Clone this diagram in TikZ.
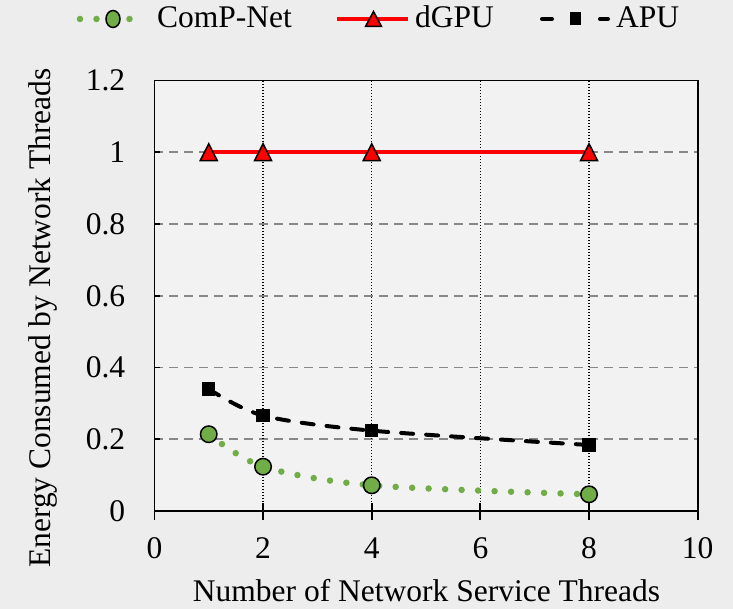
\documentclass[tikz,border=0pt]{standalone}
\usepackage{fontspec}
\newfontfamily\chartserif{LiberationSerif}[Extension=.ttf, UprightFont=*-Regular]
\usetikzlibrary{shapes.geometric}

\definecolor{pagebg}{HTML}{EDEDED}
\definecolor{plotbg}{HTML}{F2F2F2}
\definecolor{gridgray}{HTML}{888888}
\definecolor{compgreen}{HTML}{70AD47}
\definecolor{dgpured}{HTML}{FF0000}

\tikzset{
  axisframe/.style={black, line width=1.8pt},
  hgrid/.style={gridgray, line width=1.8pt, dash pattern=on 9pt off 6pt},
  vgrid/.style={black, line width=1.2pt, dash pattern=on 1.4pt off 1.6pt},
  compline/.style={compgreen, line width=6.5pt, line cap=round, dash pattern=on 0pt off 16.5pt},
  dgpuline/.style={dgpured, line width=4pt},
  apuline/.style={black, line width=4pt, line cap=round, dash pattern=on 12pt off 13pt},
  compmark/.style={circle, draw=black, line width=1.5pt, fill=compgreen, minimum size=16.5pt, inner sep=0pt},
  complegend/.style={ellipse, draw=black, line width=1.5pt, fill=compgreen, minimum width=14pt, minimum height=17pt, inner sep=0pt},
  apumark/.style={rectangle, fill=black, minimum size=13.5pt, inner sep=0pt},
  apulegend/.style={rectangle, fill=black, minimum width=11pt, minimum height=13pt, inner sep=0pt},
  markedge/.style={draw=black, line width=1.5pt, line join=miter, fill=dgpured},
  trimark/.pic={\path[markedge] (0pt,8.5pt) -- (-8.5pt,-8.3pt) -- (8.5pt,-8.3pt) -- cycle;},
  trilegend/.pic={\path[markedge] (0pt,7.5pt) -- (-8pt,-7.5pt) -- (8pt,-7.5pt) -- cycle;},
  chartfont/.style={font=\chartserif\fontsize{31.5}{36}\selectfont},
  ticklabel/.style={inner sep=0pt, chartfont},
}

\begin{document}
\begin{tikzpicture}[x=1pt, y=1pt]
  % page
  \fill[pagebg] (0,0) rectangle (733,609);
  \useasboundingbox (0,0) rectangle (733,609);

  % data area: x from 0 to 10, y from 0 to 1.2
  \begin{scope}[shift={(154.4,98)}, x=54.33pt, y=358.7pt]
    \fill[plotbg] (0,0) rectangle (10,1.2);

    % grid
    \foreach \v in {0.2,0.4,0.6,0.8,1.0}
      \draw[hgrid] (0,\v) -- (10,\v);
    \foreach \u in {2,4,6,8}
      \draw[vgrid] (\u,0) -- (\u,1.2);

    % frame and ticks
    \draw[axisframe] (0,0) rectangle (10,1.2);
    \foreach \u in {2,4,6,8}
      \draw[axisframe] (\u,0) ++(0,-9pt) -- ++(0,17pt);
    \draw[axisframe] (0,0) -- ++(0,-9pt);
    \draw[axisframe] (10,0) -- ++(0,-9pt);
    \foreach \v in {0.2,0.4,0.6,0.8,1.0}
      \draw[axisframe] (0,\v) -- ++(6pt,0);

    % tick labels
    \foreach \v/\t in {0/0,0.2/0.2,0.4/0.4,0.6/0.6,0.8/0.8,1/1,1.2/1.2}
      \node[ticklabel, anchor=east] (ylab\t) at ([xshift=-29pt]0,\v) {\t};
    \foreach \u in {0,2,4,6,8,10}
      \node[ticklabel, anchor=base] (xlab\u) at ([yshift=-48pt]\u,0) {\u};

    % data points
    \coordinate (c1) at (1,0.214);
    \coordinate (c2) at (2,0.1235);
    \coordinate (c4) at (4,0.0716);
    \coordinate (c8) at (8,0.0465);
    \coordinate (d1) at (1,1);
    \coordinate (d2) at (2,1);
    \coordinate (d4) at (4,1);
    \coordinate (d8) at (8,1);
    \coordinate (a1) at (1,0.340);
    \coordinate (a2) at (2,0.266);
    \coordinate (a4) at (4,0.224);
    \coordinate (a8) at (8,0.184);

    % series lines
    \draw[compline] plot[smooth, tension=0.5] coordinates {(c1) (c2) (c4) (c8)};
    \draw[apuline] plot[smooth, tension=0.5] coordinates {(a1) (a2) (a4) (a8)};
    \draw[dgpuline] (d1) -- (d2) -- (d4) -- (d8);

    % markers
    \foreach \k in {1,2,4,8} {
      \node[compmark] (cm\k) at (c\k) {};
      \node[apumark] (am\k) at (a\k) {};
      \pic (dm\k) at (d\k) {trimark};
    }
  \end{scope}

  % axis titles
  \node[chartfont, anchor=base, inner sep=0pt] (xtitle) at (426.5,7)
    {Number of Network Service Threads};
  \node[chartfont, anchor=base, inner sep=0pt, rotate=90] (ytitle) at (50,291)
    {Energy Consumed by Network Threads};

  % legend
  \coordinate (lc0) at (80,590);
  \coordinate (lc1) at (146,590);
  \draw[compline] (lc0) -- (lc1);
  \node[complegend] (lcm) at (113,590) {};
  \node[chartfont, anchor=base west, inner sep=0pt] (lctext) at (157,581) {ComP-Net};

  \coordinate (ld0) at (337,590);
  \coordinate (ld1) at (408,590);
  \draw[dgpuline] (ld0) -- (ld1);
  \pic (ldm) at (373.5,590) {trilegend};
  \node[chartfont, anchor=base west, inner sep=0pt] (ldtext) at (415,581) {dGPU};

  \coordinate (la0) at (542,590);
  \coordinate (la1) at (608,590);
  \draw[apuline, dash pattern=on 10pt off 48pt] (la0) -- (la1);
  \node[apulegend] (lam) at (575,590) {};
  \node[chartfont, anchor=base west, inner sep=0pt] (latext) at (616,581) {APU};
\end{tikzpicture}
\end{document}
